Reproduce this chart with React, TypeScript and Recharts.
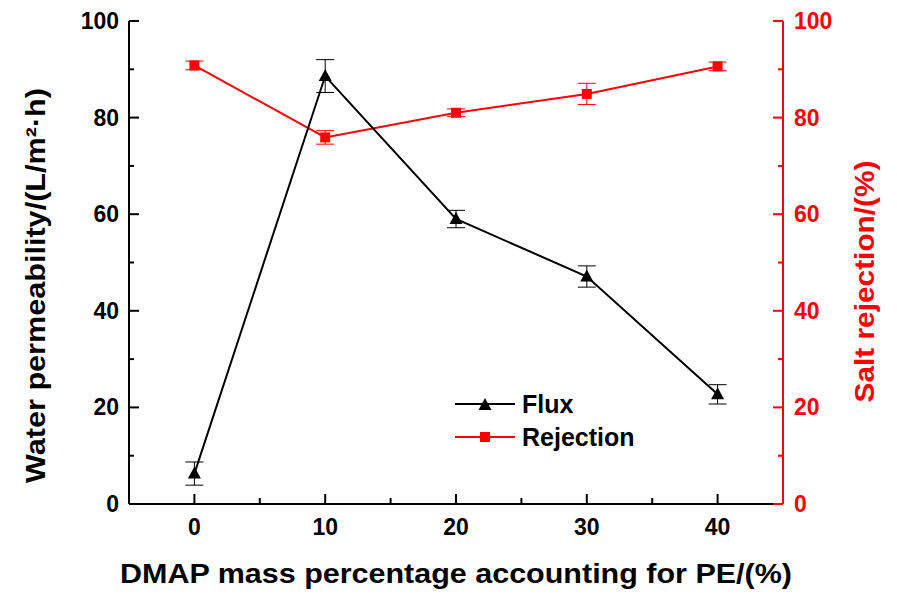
import { ErrorBar, Label, Legend, Line, LineChart, XAxis, YAxis } from "recharts"

const pePercent = [0, 10, 20, 30, 40]
const flux = [6.3, 88.6, 59.0, 47.1, 22.7]
const fluxErr = [2.4, 3.4, 1.8, 2.2, 2.0]
const rejection = [90.8, 75.9, 81.0, 84.9, 90.6]
const rejectionErr = [0.9, 1.4, 0.8, 2.2, 0.9]

const xTicks = [0, 5, 10, 15, 20, 25, 30, 35, 40]
const yTicks = [0, 10, 20, 30, 40, 50, 60, 70, 80, 90, 100]

const data = pePercent.map((pe, i) => ({
    pe,
    flux: flux[i],
    fluxErr: fluxErr[i],
    rejection: rejection[i],
    rejectionErr: rejectionErr[i],
}))

const FONT = "'Liberation Sans', Arial, Helvetica, sans-serif"
const RED = "#ff0000"

const tickFont = { fontFamily: FONT, fontWeight: 700, fontSize: 23 }
const titleFont = { fontFamily: FONT, fontWeight: 700, fontSize: 27 }

function BottomTick({ x, y, payload }: any) {
    const major = payload.value % 10 === 0
    return (
        <g>
            <line x1={x} x2={x} y1={y} y2={y - (major ? 10 : 6)} stroke="#000" strokeWidth={2} />
            {major && (
                <text x={x} y={y + 31} textAnchor="middle" fill="#000" style={tickFont}>
                    {payload.value}
                </text>
            )}
        </g>
    )
}

function LeftTick({ x, y, payload }: any) {
    const major = payload.value % 20 === 0
    return (
        <g>
            <line x1={x} x2={x + (major ? 10 : 5)} y1={y} y2={y} stroke="#000" strokeWidth={2} />
            {major && (
                <text x={x - 10} y={y + 8} textAnchor="end" fill="#000" style={tickFont}>
                    {payload.value}
                </text>
            )}
        </g>
    )
}

function RightTick({ x, y, payload }: any) {
    const major = payload.value % 20 === 0
    return (
        <g>
            <line x1={x} x2={x - (major ? 10 : 5)} y1={y} y2={y} stroke={RED} strokeWidth={2} />
            {major && (
                <text x={x + 11} y={y + 8} textAnchor="start" fill={RED} style={tickFont}>
                    {payload.value}
                </text>
            )}
        </g>
    )
}

// line dots get the series' fill (white) passed in, so colours are fixed here
function Triangle({ cx, cy }: any) {
    if (cx == null || cy == null) return null
    return <polygon points={`${cx},${cy - 7} ${cx - 6.5},${cy + 5} ${cx + 6.5},${cy + 5}`} fill="#000" />
}

function Square({ cx, cy }: any) {
    if (cx == null || cy == null) return null
    return <rect x={cx - 5} y={cy - 5} width={10} height={10} fill={RED} />
}

function LegendBox() {
    const legendFont = { ...titleFont, fontSize: 25 }
    return (
        <svg width={200} height={64}>
            <line x1={5} x2={65} y1={16} y2={16} stroke="#000" strokeWidth={2} />
            <Triangle cx={35} cy={17} />
            <text x={72} y={25} style={legendFont} fill="#000">Flux</text>
            <line x1={5} x2={65} y1={49} y2={49} stroke={RED} strokeWidth={2} />
            <Square cx={35} cy={49} />
            <text x={72} y={58} style={legendFont} fill="#000">Rejection</text>
        </svg>
    )
}

export default function App() {
    return (
        <div style={{ position: "absolute", left: 0, top: 0, background: "#fff" }}>
            <LineChart width={897} height={597} data={data} margin={{ top: 21, right: 0, left: 0, bottom: 0 }}>
                <XAxis
                    xAxisId="bottom"
                    type="number"
                    dataKey="pe"
                    domain={[-5, 45]}
                    ticks={xTicks}
                    interval={0}
                    tickSize={0}
                    tickMargin={0}
                    tickLine={false}
                    height={93}
                    axisLine={{ stroke: "#000", strokeWidth: 2 }}
                    tick={<BottomTick />}
                >
                    <Label
                        content={({ viewBox }: any) => (
                            <text
                                x={viewBox.x + viewBox.width / 2}
                                y={viewBox.y + 79}
                                textAnchor="middle"
                                textLength={672}
                                lengthAdjust="spacingAndGlyphs"
                                fill="#000"
                                style={titleFont}
                            >
                                DMAP mass percentage accounting for PE/(%)
                            </text>
                        )}
                    />
                </XAxis>
                <XAxis
                    xAxisId="top"
                    orientation="top"
                    type="number"
                    dataKey="pe"
                    domain={[-5, 45]}
                    height={0}
                    tick={false}
                    tickLine={false}
                    axisLine={{ stroke: "#000", strokeWidth: 2 }}
                />
                <YAxis
                    yAxisId="left"
                    domain={[0, 100]}
                    ticks={yTicks}
                    interval={0}
                    width={129}
                    tickSize={0}
                    tickMargin={0}
                    tickLine={false}
                    axisLine={{ stroke: "#000", strokeWidth: 2 }}
                    tick={<LeftTick />}
                >
                    <Label
                        content={({ viewBox }: any) => {
                            const x = viewBox.x + 45
                            const y = viewBox.y + viewBox.height / 2 + 23
                            return (
                                <text
                                    x={x}
                                    y={y}
                                    transform={`rotate(-90 ${x} ${y})`}
                                    textAnchor="middle"
                                    textLength={395}
                                    lengthAdjust="spacingAndGlyphs"
                                    fill="#000"
                                    style={titleFont}
                                >
                                    Water permeability/(L/m²·h)
                                </text>
                            )
                        }}
                    />
                </YAxis>
                <YAxis
                    yAxisId="right"
                    orientation="right"
                    domain={[0, 100]}
                    ticks={yTicks}
                    interval={0}
                    width={114}
                    tickSize={0}
                    tickMargin={0}
                    tickLine={false}
                    axisLine={{ stroke: RED, strokeWidth: 2 }}
                    tick={<RightTick />}
                >
                    <Label
                        content={({ viewBox }: any) => {
                            const x = viewBox.x + 91
                            const y = viewBox.y + viewBox.height / 2 + 19
                            return (
                                <text
                                    x={x}
                                    y={y}
                                    transform={`rotate(-90 ${x} ${y})`}
                                    textAnchor="middle"
                                    textLength={242}
                                    lengthAdjust="spacingAndGlyphs"
                                    fill={RED}
                                    style={titleFont}
                                >
                                    Salt rejection/(%)
                                </text>
                            )
                        }}
                    />
                </YAxis>
                <Legend
                    layout="vertical"
                    align="center"
                    verticalAlign="middle"
                    wrapperStyle={{ left: 450, top: 388, width: 200 }}
                    content={() => <LegendBox />}
                />
                <Line
                    xAxisId="bottom"
                    yAxisId="right"
                    dataKey="rejection"
                    stroke={RED}
                    strokeWidth={2}
                    dot={<Square />}
                    activeDot={false}
                    isAnimationActive={false}
                >
                    <ErrorBar dataKey="rejectionErr" direction="y" width={9} stroke={RED} strokeWidth={1} isAnimationActive={false} />
                </Line>
                <Line
                    xAxisId="bottom"
                    yAxisId="left"
                    dataKey="flux"
                    stroke="#000"
                    strokeWidth={2}
                    dot={<Triangle />}
                    activeDot={false}
                    isAnimationActive={false}
                >
                    <ErrorBar dataKey="fluxErr" direction="y" width={9} stroke="#000" strokeWidth={1} isAnimationActive={false} />
                </Line>
            </LineChart>
        </div>
    )
}
